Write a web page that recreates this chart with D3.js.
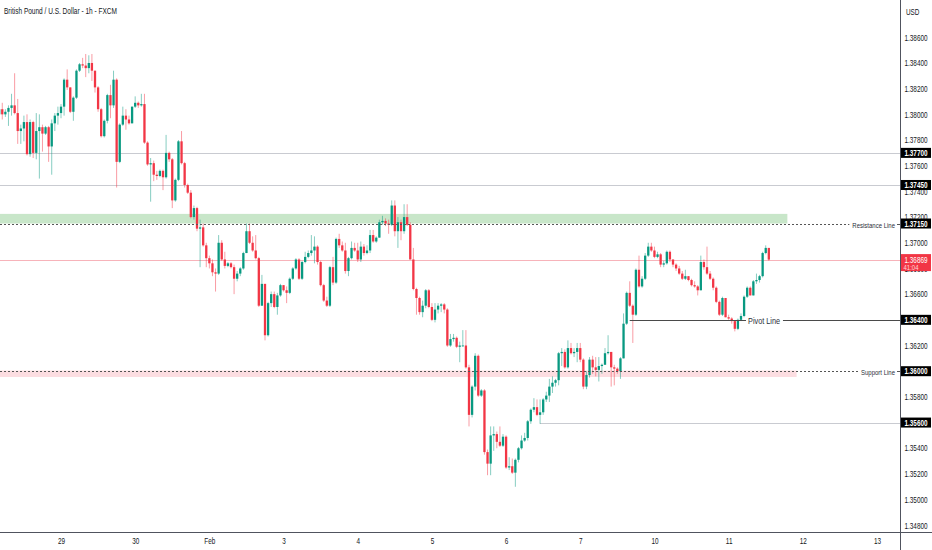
<!DOCTYPE html>
<html>
<head>
<meta charset="utf-8">
<script src="https://cdn.jsdelivr.net/npm/d3@7"></script>
<style>
    body { margin: 0; background: #ffffff; }
    svg { display: block; font-family: "Liberation Sans", Arial, sans-serif; }
</style>
</head>
<body>
<svg></svg>
<script>
const size = {w: 932, h: 550};
const plot = {r: 900, b: 532};
const squeeze = 0.75;   // the screenshot is narrow, so all text is squeezed sideways
const svg = d3.select('svg');

svg.attr('width', size.w)
    .attr('height', size.h);

// GBP/USD 1h candles, bar 0 = 29 Jan 00:00, first bar on screen is -20
const firstBar = -20;
const firstOpen = 1.3800;
const closes = [
    1.3804, 1.3800, 1.3802, 1.3805, 1.3807, 1.3801, 1.3787, 1.3789, 1.3794, 1.3769,
    1.3794, 1.3770, 1.3787, 1.3790, 1.3785, 1.3790, 1.3775, 1.3793, 1.3799, 1.3801,
    1.3806, 1.3827, 1.3821, 1.3802, 1.3813, 1.3834, 1.3839, 1.3838, 1.3836, 1.3840,
    1.3834, 1.3821, 1.3804, 1.3783, 1.3795, 1.3815, 1.3807, 1.3827, 1.3763, 1.3792,
    1.3799, 1.3796, 1.3793, 1.3806, 1.3809, 1.3807, 1.3808, 1.3778, 1.3761, 1.3762,
    1.3753, 1.3752, 1.3756, 1.3751, 1.3770, 1.3765, 1.3733, 1.3749, 1.3779, 1.3762,
    1.3745, 1.3739, 1.3720, 1.3727, 1.3711, 1.3712, 1.3698, 1.3688, 1.3684, 1.3677,
    1.3676, 1.3700, 1.3687, 1.3682, 1.3684, 1.3681, 1.3672, 1.3676, 1.3680, 1.3692,
    1.3709, 1.3700, 1.3694, 1.3688, 1.3651, 1.3668, 1.3628, 1.3653, 1.3660, 1.3650,
    1.3659, 1.3667, 1.3663, 1.3661, 1.3672, 1.3680, 1.3687, 1.3672, 1.3685, 1.3689,
    1.3692, 1.3694, 1.3697, 1.3685, 1.3667, 1.3655, 1.3651, 1.3681, 1.3669, 1.3703,
    1.3698, 1.3694, 1.3678, 1.3688, 1.3696, 1.3694, 1.3687, 1.3697, 1.3692, 1.3694,
    1.3706, 1.3701, 1.3704, 1.3716, 1.3717, 1.3715, 1.3714, 1.3729, 1.3709, 1.3716,
    1.3709, 1.3720, 1.3714, 1.3687, 1.3664, 1.3657, 1.3646, 1.3651, 1.3663, 1.3650,
    1.3640, 1.3648, 1.3651, 1.3652, 1.3648, 1.3620, 1.3625, 1.3626, 1.3619, 1.3620,
    1.3620, 1.3603, 1.3566, 1.3588, 1.3612, 1.3581, 1.3585, 1.3537, 1.3528, 1.3550,
    1.3551, 1.3545, 1.3542, 1.3549, 1.3525, 1.3526, 1.3521, 1.3531, 1.3540, 1.3546,
    1.3548, 1.3561, 1.3570, 1.3572, 1.3566, 1.3568, 1.3578, 1.3581, 1.3588, 1.3591,
    1.3593, 1.3614, 1.3615, 1.3603, 1.3618, 1.3614, 1.3615, 1.3618, 1.3609, 1.3588,
    1.3597, 1.3609, 1.3603, 1.3601, 1.3604, 1.3605, 1.3614, 1.3615, 1.3603, 1.3602,
    1.3600, 1.3610, 1.3637, 1.3661, 1.3651, 1.3644, 1.3679, 1.3666, 1.3672, 1.3690,
    1.3697, 1.3694, 1.3689, 1.3691, 1.3683, 1.3684, 1.3693, 1.3687, 1.3683, 1.3680,
    1.3676, 1.3672, 1.3674, 1.3671, 1.3667, 1.3666, 1.3663, 1.3685, 1.3681, 1.3676,
    1.3672, 1.3665, 1.3654, 1.3644, 1.3657, 1.3642, 1.3641, 1.3639, 1.3633, 1.3640,
    1.3643, 1.3658, 1.3665, 1.3659, 1.3670, 1.3671, 1.3674, 1.3692, 1.3696, 1.36869
];
const highs = [
    1.3808, 1.3809, 1.3804, 1.3807, 1.3816, 1.3832, 1.3812, 1.3792, 1.3799, 1.3800,
    1.3796, 1.3795, 1.3801, 1.3800, 1.3792, 1.3791, 1.3791, 1.3796, 1.3801, 1.3806,
    1.3808, 1.3828, 1.3835, 1.3821, 1.3814, 1.3835, 1.3840, 1.3844, 1.3847, 1.3846,
    1.3847, 1.3832, 1.3822, 1.3805, 1.3796, 1.3816, 1.3823, 1.3834, 1.3828, 1.3793,
    1.3806, 1.3804, 1.3799, 1.3806, 1.3814, 1.3810, 1.3816, 1.3816, 1.3779, 1.3766,
    1.3764, 1.3756, 1.3757, 1.3757, 1.3784, 1.3771, 1.3766, 1.3750, 1.3780, 1.3787,
    1.3763, 1.3746, 1.3741, 1.3729, 1.3728, 1.3718, 1.3715, 1.3700, 1.3690, 1.3687,
    1.3680, 1.3706, 1.3702, 1.3693, 1.3685, 1.3685, 1.3683, 1.3678, 1.3681, 1.3693,
    1.3715, 1.3715, 1.3705, 1.3706, 1.3689, 1.3675, 1.3668, 1.3654, 1.3662, 1.3662,
    1.3661, 1.3668, 1.3667, 1.3666, 1.3673, 1.3681, 1.3688, 1.3688, 1.3686, 1.3693,
    1.3694, 1.3706, 1.3705, 1.3698, 1.3686, 1.3668, 1.3658, 1.3682, 1.3689, 1.3704,
    1.3707, 1.3701, 1.3700, 1.3689, 1.3701, 1.3700, 1.3700, 1.3701, 1.3699, 1.3698,
    1.3710, 1.3710, 1.3705, 1.3718, 1.3721, 1.3719, 1.3718, 1.3733, 1.3733, 1.3720,
    1.3718, 1.3730, 1.3730, 1.3716, 1.3696, 1.3665, 1.3658, 1.3655, 1.3664, 1.3664,
    1.3653, 1.3653, 1.3653, 1.3653, 1.3653, 1.3649, 1.3629, 1.3629, 1.3627, 1.3623,
    1.3632, 1.3632, 1.3605, 1.3589, 1.3614, 1.3613, 1.3586, 1.3586, 1.3539, 1.3557,
    1.3557, 1.3553, 1.3557, 1.3551, 1.3550, 1.3533, 1.3532, 1.3532, 1.3541, 1.3550,
    1.3552, 1.3562, 1.3571, 1.3579, 1.3578, 1.3578, 1.3579, 1.3584, 1.3594, 1.3596,
    1.3594, 1.3615, 1.3618, 1.3617, 1.3624, 1.3622, 1.3618, 1.3622, 1.3622, 1.3610,
    1.3600, 1.3611, 1.3612, 1.3611, 1.3611, 1.3606, 1.3618, 1.3628, 1.3615, 1.3605,
    1.3603, 1.3611, 1.3645, 1.3662, 1.3670, 1.3652, 1.3680, 1.3690, 1.3674, 1.3692,
    1.3700, 1.3700, 1.3697, 1.3693, 1.3692, 1.3686, 1.3694, 1.3694, 1.3687, 1.3684,
    1.3682, 1.3678, 1.3679, 1.3674, 1.3672, 1.3670, 1.3667, 1.3690, 1.3687, 1.3697,
    1.3678, 1.3673, 1.3666, 1.3655, 1.3658, 1.3657, 1.3644, 1.3642, 1.3639, 1.3641,
    1.3645, 1.3659, 1.3666, 1.3666, 1.3671, 1.3676, 1.3675, 1.3693, 1.3698, 1.3696
];
const lows = [
    1.3792, 1.3796, 1.3798, 1.3791, 1.3799, 1.3800, 1.3777, 1.3777, 1.3779, 1.3768,
    1.3767, 1.3766, 1.3765, 1.3750, 1.3771, 1.3784, 1.3763, 1.3753, 1.3787, 1.3792,
    1.3797, 1.3799, 1.3819, 1.3801, 1.3795, 1.3812, 1.3833, 1.3836, 1.3829, 1.3832,
    1.3826, 1.3817, 1.3802, 1.3782, 1.3782, 1.3793, 1.3797, 1.3805, 1.3743, 1.3762,
    1.3791, 1.3788, 1.3792, 1.3793, 1.3805, 1.3805, 1.3806, 1.3777, 1.3760, 1.3732,
    1.3748, 1.3749, 1.3751, 1.3741, 1.3750, 1.3763, 1.3727, 1.3732, 1.3748, 1.3761,
    1.3743, 1.3738, 1.3719, 1.3718, 1.3709, 1.3681, 1.3697, 1.3681, 1.3680, 1.3674,
    1.3662, 1.3675, 1.3686, 1.3680, 1.3681, 1.3680, 1.3660, 1.3670, 1.3674, 1.3679,
    1.3692, 1.3699, 1.3693, 1.3687, 1.3650, 1.3651, 1.3624, 1.3627, 1.3650, 1.3649,
    1.3644, 1.3658, 1.3662, 1.3653, 1.3660, 1.3671, 1.3679, 1.3671, 1.3671, 1.3684,
    1.3688, 1.3690, 1.3684, 1.3683, 1.3666, 1.3654, 1.3650, 1.3650, 1.3667, 1.3668,
    1.3696, 1.3693, 1.3676, 1.3674, 1.3687, 1.3693, 1.3685, 1.3685, 1.3690, 1.3691,
    1.3692, 1.3700, 1.3700, 1.3704, 1.3714, 1.3713, 1.3707, 1.3713, 1.3705, 1.3696,
    1.3702, 1.3707, 1.3713, 1.3687, 1.3663, 1.3644, 1.3644, 1.3642, 1.3649, 1.3649,
    1.3639, 1.3638, 1.3645, 1.3646, 1.3645, 1.3619, 1.3619, 1.3623, 1.3618, 1.3607,
    1.3619, 1.3602, 1.3557, 1.3564, 1.3585, 1.3580, 1.3580, 1.3535, 1.3519, 1.3519,
    1.3538, 1.3540, 1.3541, 1.3541, 1.3524, 1.3523, 1.3520, 1.3510, 1.3529, 1.3539,
    1.3545, 1.3546, 1.3559, 1.3568, 1.3565, 1.3559, 1.3566, 1.3576, 1.3576, 1.3583,
    1.3588, 1.3589, 1.3604, 1.3602, 1.3602, 1.3613, 1.3611, 1.3607, 1.3607, 1.3586,
    1.3586, 1.3595, 1.3598, 1.3596, 1.3592, 1.3598, 1.3605, 1.3613, 1.3588, 1.3589,
    1.3598, 1.3594, 1.3610, 1.3636, 1.3650, 1.3622, 1.3643, 1.3665, 1.3665, 1.3671,
    1.3689, 1.3693, 1.3688, 1.3688, 1.3681, 1.3681, 1.3683, 1.3685, 1.3681, 1.3678,
    1.3675, 1.3671, 1.3671, 1.3670, 1.3666, 1.3665, 1.3659, 1.3663, 1.3679, 1.3675,
    1.3671, 1.3663, 1.3653, 1.3643, 1.3643, 1.3642, 1.3640, 1.3637, 1.3631, 1.3632,
    1.3639, 1.3642, 1.3657, 1.3659, 1.3659, 1.3668, 1.3669, 1.3673, 1.3691, 1.3686
];

const dayLabels = ['29', '30', 'Feb', '3', '4', '5', '6', '7', '10', '11', '12', '13'];
const priceTicks = [1.348, 1.350, 1.352, 1.354, 1.356, 1.358, 1.360, 1.362, 1.364, 1.366,
    1.368, 1.370, 1.372, 1.374, 1.376, 1.378, 1.380, 1.382, 1.384, 1.386];

// drawings on the chart
const hLines = [
    {price: 1.3770, from: -21},
    {price: 1.3745, from: -21},
    {price: 1.3560, from: 155}
];
const zones = [
    {name: 'Resistance Line', lo: 1.3715, hi: 1.37225, line: 1.3715, to: 235, fill: '#c8e6c9'},
    {name: 'Support Line', lo: 1.35955, hi: 1.36005, line: 1.3600, to: 238, fill: '#fcdde1'}
];
const pivot = {name: 'Pivot Line', price: 1.3640, from: 184};
const markedPrices = [1.3770, 1.3745, 1.3715, 1.3640, 1.3600, 1.3560];
const lastPrice = 1.36869;
const countdown = '41:04';
const title = 'British Pound / U.S. Dollar - 1h - FXCM';

const x = d3.scaleLinear().domain([0, 264]).range([61, 877]);
const y = d3.scaleLinear().domain([1.348, 1.386]).range([525.3, 37.3]);
const fmt = d3.format('.5f');

let candles = closes.map(function (c, i) {
    return {
        bar: firstBar + i,
        o: i === 0 ? firstOpen : closes[i - 1],
        h: highs[i],
        l: lows[i],
        c: c
    };
});

svg.append('defs').append('clipPath').attr('id', 'plot-clip')
    .append('rect').attr('x', 0).attr('y', 0).attr('width', plot.r).attr('height', plot.b);

let g = svg.append('g').attr('clip-path', 'url(#plot-clip)');

drawDrawings(g);
drawCandles(g, candles);
drawLabels(g);
drawAxes();
drawPriceTags();

addText(svg, 4, 14, title, 8.7, '#131722');


// text placed at (tx, ty) and squeezed sideways
function addText (ele, tx, ty, str, fs, color) {
    return ele.append('text')
        .attr('transform', 'translate(' + tx + ',' + ty + ') scale(' + squeeze + ',1)')
        .attr('font-size', fs)
        .attr('fill', color)
        .text(str);
}

function drawDrawings (ele) {
    ele.selectAll('line.level')
        .data(hLines)
        .enter()
        .append('line')
        .classed('level', true)
        .attr('x1', d => x(d.from)).attr('x2', plot.r)
        .attr('y1', d => Math.round(y(d.price)) + 0.5)
        .attr('y2', d => Math.round(y(d.price)) + 0.5)
        .attr('stroke', '#c9cbd1')
        .attr('stroke-width', 1);

    ele.selectAll('rect.zone')
        .data(zones)
        .enter()
        .append('rect')
        .classed('zone', true)
        .attr('x', 0)
        .attr('y', d => y(d.hi))
        .attr('width', d => x(d.to))
        .attr('height', d => y(d.lo) - y(d.hi))
        .attr('fill', d => d.fill);

    // current price line
    ele.append('line')
        .attr('x1', 0).attr('x2', plot.r)
        .attr('y1', Math.round(y(lastPrice)) + 0.5)
        .attr('y2', Math.round(y(lastPrice)) + 0.5)
        .attr('stroke', '#f7b3ba')
        .attr('stroke-width', 1);
}

function drawCandles (ele, data) {
    const bw = 2.3;
    let c = ele.selectAll('g.candle')
        .data(data)
        .enter()
        .append('g')
        .classed('candle', true)
        .attr('fill', d => d.c >= d.o ? '#089981' : '#f23645')
        .attr('stroke', d => d.c >= d.o ? '#089981' : '#f23645');

    c.append('line')
        .attr('x1', d => x(d.bar)).attr('x2', d => x(d.bar))
        .attr('y1', d => y(Math.max(d.h, d.o, d.c)))
        .attr('y2', d => y(Math.min(d.l, d.o, d.c)))
        .attr('stroke-width', 0.9)
        .attr('stroke-opacity', 0.55);

    c.append('rect')
        .attr('x', d => x(d.bar) - bw / 2)
        .attr('width', bw)
        .attr('y', d => y(Math.max(d.o, d.c)))
        .attr('height', d => Math.max(0.8, Math.abs(y(d.o) - y(d.c))))
        .attr('stroke', 'none');
}

function drawLabels (ele) {
    let py = Math.round(y(pivot.price)) + 0.5;
    let pt = addText(ele, 764, py + 3.5, pivot.name, 9.7, '#2a2e39')
        .attr('text-anchor', 'middle');
    let pw = pt.node().getComputedTextLength() * squeeze;
    ele.append('line')
        .attr('x1', x(pivot.from)).attr('x2', 764 - pw / 2 - 2)
        .attr('y1', py).attr('y2', py)
        .attr('stroke', '#4a4a4a');
    ele.append('line')
        .attr('x1', 764 + pw / 2 + 3).attr('x2', plot.r)
        .attr('y1', py).attr('y2', py)
        .attr('stroke', '#4a4a4a');

    // dashed zone lines with their labels
    zones.forEach(function (z) {
        let zy = Math.round(y(z.line)) + 0.5;
        let t = addText(ele, 895, zy + 3, z.name, 8, '#2a2e39')
            .attr('text-anchor', 'end');
        let tw = t.node().getComputedTextLength() * squeeze;
        ele.append('line')
            .attr('x1', 0).attr('x2', 895 - tw - 3)
            .attr('y1', zy).attr('y2', zy)
            .attr('stroke', '#555')
            .attr('stroke-dasharray', '2,2');
        ele.append('line')
            .attr('x1', 897).attr('x2', plot.r)
            .attr('y1', zy).attr('y2', zy)
            .attr('stroke', '#555');
    });
}

function drawAxes () {
    let ya = svg.append('g')
        .attr('transform', 'translate(' + plot.r + ',0)')
        .call(d3.axisRight(y).tickValues(priceTicks).tickFormat(fmt).tickSize(0));
    ya.select('.domain').remove();
    ya.selectAll('text')
        .attr('font-family', null)
        .attr('font-size', 8.5)
        .attr('fill', '#131722')
        .attr('text-anchor', 'middle')
        .attr('x', 0)
        .attr('transform', 'translate(16,0) scale(' + squeeze + ',1)');

    let xa = svg.append('g')
        .attr('transform', 'translate(0,' + plot.b + ')')
        .call(d3.axisBottom(x).tickValues(d3.range(0, 265, 24)).tickFormat((d, i) => dayLabels[i]).tickSize(0).tickPadding(6));
    xa.select('.domain').remove();
    xa.selectAll('text')
        .attr('font-family', null)
        .attr('font-size', 8.5)
        .attr('fill', '#131722')
        .attr('transform', 'scale(' + squeeze + ',1)');

    svg.append('line')
        .attr('x1', 0).attr('x2', size.w)
        .attr('y1', plot.b + 0.5).attr('y2', plot.b + 0.5)
        .attr('stroke', '#50535e');
    svg.append('line')
        .attr('x1', plot.r + 0.5).attr('x2', plot.r + 0.5)
        .attr('y1', 0).attr('y2', size.h)
        .attr('stroke', '#50535e');

    addText(svg, 906, 15, 'USD', 8.5, '#131722');
}

function drawPriceTags () {
    let tags = svg.selectAll('g.tag')
        .data(markedPrices)
        .enter()
        .append('g')
        .classed('tag', true)
        .attr('transform', d => 'translate(' + (plot.r + 1) + ',' + y(d) + ')');
    tags.append('rect')
        .attr('x', 0).attr('y', -5)
        .attr('width', 30).attr('height', 10)
        .attr('fill', '#000000');
    tags.append('text')
        .attr('transform', 'translate(15,3) scale(' + squeeze + ',1)')
        .attr('text-anchor', 'middle')
        .attr('font-size', 8.5)
        .attr('font-weight', 'bold')
        .attr('fill', '#ffffff')
        .text(d => fmt(d));

    let ly = y(lastPrice);
    let last = svg.append('g').attr('transform', 'translate(' + (plot.r + 1) + ',' + ly + ')');
    last.append('rect')
        .attr('x', 0).attr('y', -5.5)
        .attr('width', 30).attr('height', 17)
        .attr('fill', '#f23645');
    addText(last, 15, 3, fmt(lastPrice), 8.5, '#ffffff')
        .attr('text-anchor', 'middle');
    addText(last, 2.5, 10, countdown, 8, '#ffd6da');
}
</script>
</body>
</html>
